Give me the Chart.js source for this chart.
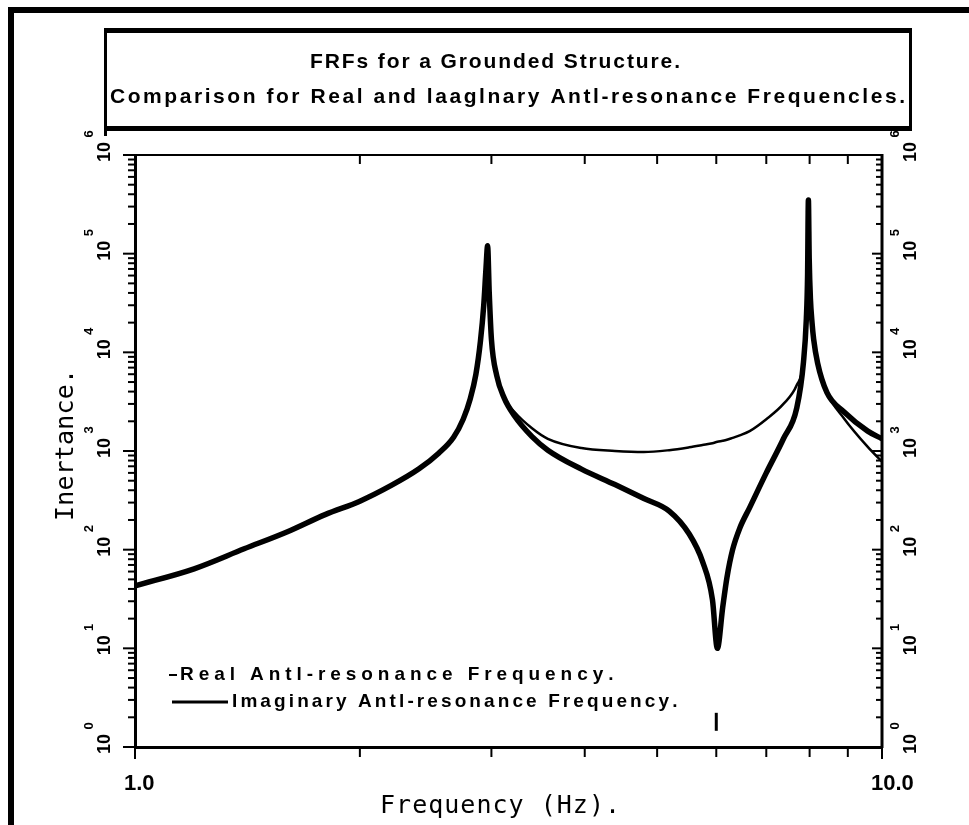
<!DOCTYPE html>
<html>
<head>
<meta charset="utf-8">
<title>FRFs for a Grounded Structure</title>
<script src="https://cdn.jsdelivr.net/npm/chart.js@4.4.1/dist/chart.umd.min.js"></script>
<style>
    html, body { margin: 0; padding: 0; background: #fff; }
    #wrap { position: relative; width: 969px; height: 825px; }
</style>
</head>
<body>
<div id="wrap"><canvas id="frf-chart"></canvas></div>
<script>
// Frequencies (Hz) shared by both curves
const FREQ = [1.0, 1.2, 1.4, 1.6, 1.8, 2.0, 2.2, 2.4, 2.55, 2.67, 2.75, 2.81, 2.86, 2.9, 2.93, 2.95, 2.965,
    2.98, 3.0, 3.05, 3.12, 3.22, 3.4, 3.57, 3.96, 4.39, 4.8, 5.19, 5.52, 5.75, 5.93, 6.02, 6.12, 6.2, 6.31,
    6.45, 6.65, 7.0, 7.38, 7.69, 7.85, 7.92, 7.95, 7.97, 7.99, 8.02, 8.06, 8.1, 8.2, 8.44, 8.89, 9.57, 10.0];

// Real anti-resonance (thin line)
const REAL_INERTANCE = [43, 64, 102, 152, 228, 310, 445, 660, 950, 1380, 2100, 3370, 6000, 12900, 30000, 70000, 120000,
    40000, 13600, 5800, 3450, 2500, 1700, 1330, 1070, 1000, 975, 1020, 1090, 1150, 1200, 1240, 1270, 1300, 1360,
    1440, 1590, 2100, 3000, 4660, 7940, 22000, 60000, 350000, 90000, 35000, 20000, 13600, 7770, 3900, 2150, 1100, 780];

// Imaginary anti-resonance (thick line)
const IMAG_INERTANCE = [43, 64, 102, 152, 228, 310, 445, 660, 950, 1380, 2100, 3370, 6000, 12900, 30000, 70000, 120000,
    40000, 13600, 5800, 3450, 2280, 1400, 1020, 655, 457, 330, 246, 144, 76, 31, 10, 26, 52, 100,
    165, 267, 600, 1330, 2740, 7940, 22000, 60000, 350000, 90000, 35000, 20000, 13600, 7770, 3900, 2500, 1590, 1330];

// small bar marking the anti-resonance frequency
const MARKER_FREQ = [6.0];
const MARKER_LEVEL = [1.8];

const Y_EXPONENTS = [0, 1, 2, 3, 4, 5, 6];
const MINOR_STEPS = [2, 3, 4, 5, 6, 7, 8, 9];
const X_TICK_VALUES = [1, 10];
const X_TICK_LABELS = ['1.0', '10.0'];

const TITLE_LINES = ['FRFs for a Grounded Structure.',
    'Comparison for Real and laaglnary Antl-resonance Frequencles.'];
const SERIES_LABELS = ['Real Antl-resonance Frequency.', 'Imaginary Antl-resonance Frequency.'];
const X_TITLE = 'Frequency (Hz).';
const Y_TITLE = 'Inertance.';

function toPoints(xs, ys) {
    return xs.map((f, i) => ({ x: f, y: ys[i] }));
}

function line(ctx, x1, y1, x2, y2) {
    ctx.beginPath();
    ctx.moveTo(x1, y1);
    ctx.lineTo(x2, y2);
    ctx.stroke();
}

// draw text from x, spreading the letters so it fills width
function drawSpaced(ctx, text, x, y, width) {
    const natural = ctx.measureText(text).width;
    const gap = text.length > 1 ? (width - natural) / (text.length - 1) : 0;
    let cx = x;
    for (const ch of text) {
        ctx.fillText(ch, cx, y);
        cx += ctx.measureText(ch).width + gap;
    }
}

// rotated "10" with superscript exponent
function powerLabel(ctx, x, y, exp) {
    ctx.save();
    ctx.translate(x, y);
    ctx.rotate(-Math.PI / 2);
    ctx.textAlign = 'center';
    ctx.textBaseline = 'middle';
    ctx.font = 'bold 18px "Liberation Sans"';
    ctx.fillText('10', 0, 0);
    ctx.font = 'bold 13px "Liberation Sans"';
    ctx.fillText(String(exp), 18, -16);
    ctx.restore();
}

const decor = {
    id: 'decor',
    beforeDraw(chart) {
        const ctx = chart.ctx;
        ctx.save();
        ctx.fillStyle = '#fff';
        ctx.fillRect(0, 0, chart.width, chart.height);
        ctx.fillStyle = '#000';
        // page frame
        ctx.fillRect(8, 7, chart.width - 8, 6);
        ctx.fillRect(8, 7, 6, chart.height - 7);
        // title box
        ctx.fillRect(104, 28, 808, 5);
        ctx.fillRect(104, 126, 808, 5);
        ctx.fillRect(104, 28, 3, 108);
        ctx.fillRect(909, 28, 3, 103);
        ctx.font = 'bold 21px "Liberation Sans"';
        ctx.textBaseline = 'middle';
        drawSpaced(ctx, TITLE_LINES[0], 495 - 185, 62, 370);
        drawSpaced(ctx, TITLE_LINES[1], 110, 97, 795);
        ctx.restore();
    },
    afterDraw(chart) {
        const { ctx, chartArea: a, scales: { x, y } } = chart;
        ctx.save();
        ctx.strokeStyle = '#000';
        ctx.fillStyle = '#000';

        // top and right frame lines
        ctx.lineWidth = 2;
        line(ctx, a.left, a.top, a.right + 1, a.top);
        ctx.lineWidth = 3;
        line(ctx, a.right, a.top - 1, a.right, a.bottom + 1);

        // y ticks and labels, both sides
        ctx.lineWidth = 2;
        Y_EXPONENTS.forEach(e => {
            const base = Math.pow(10, e);
            const py = y.getPixelForValue(base);
            line(ctx, a.left - 12, py, a.left, py);
            line(ctx, a.right - 10, py, a.right, py);
            if (e < Y_EXPONENTS[Y_EXPONENTS.length - 1]) {
                MINOR_STEPS.forEach(m => {
                    const p = y.getPixelForValue(base * m);
                    line(ctx, a.left - 7, p, a.left, p);
                    line(ctx, a.right - 6, p, a.right, p);
                });
            }
            powerLabel(ctx, 105, py - 3, e);
            powerLabel(ctx, 911, py - 3, e);
        });

        // x ticks
        MINOR_STEPS.forEach(m => {
            const px = x.getPixelForValue(m);
            line(ctx, px, a.top, px, a.top + 9);
            line(ctx, px, a.bottom, px, a.bottom + 10);
        });
        X_TICK_VALUES.forEach((v, i) => {
            const px = x.getPixelForValue(v);
            line(ctx, px, a.bottom, px, a.bottom + 12);
            ctx.font = 'bold 22px "Liberation Sans"';
            ctx.textAlign = 'left';
            ctx.textBaseline = 'middle';
            ctx.fillText(X_TICK_LABELS[i], px - 11, 784);
        });

        // axis titles
        ctx.font = '25px "DejaVu Sans Mono"';
        ctx.textAlign = 'left';
        ctx.textBaseline = 'middle';
        drawSpaced(ctx, X_TITLE, 500 - 120, 806, 240);
        ctx.save();
        ctx.translate(66, 445);
        ctx.rotate(-Math.PI / 2);
        drawSpaced(ctx, Y_TITLE, -76, 0, 152);
        ctx.restore();

        // legend inside the plot
        const ds = chart.data.datasets;
        ctx.font = 'bold 19px "Liberation Sans"';
        ctx.lineWidth = 2;
        line(ctx, 169, 675, 177, 675);
        drawSpaced(ctx, ds[0].label, 180, 675, 432);
        ctx.lineWidth = 3;
        line(ctx, 172, 702, 228, 702);
        drawSpaced(ctx, ds[1].label, 232, 702, 444);
        ctx.restore();
    }
};

new Chart(document.getElementById('frf-chart'), {
    type: 'line',
    data: {
        datasets: [{
            label: SERIES_LABELS[0],
            data: toPoints(FREQ, REAL_INERTANCE),
            borderColor: '#000',
            borderWidth: 2.5,
            pointRadius: 0,
            cubicInterpolationMode: 'monotone',
            fill: false
        }, {
            label: SERIES_LABELS[1],
            data: toPoints(FREQ, IMAG_INERTANCE),
            borderColor: '#000',
            borderWidth: 5.5,
            pointRadius: 0,
            cubicInterpolationMode: 'monotone',
            fill: false
        }, {
            label: 'marker',
            data: toPoints(MARKER_FREQ, MARKER_LEVEL),
            showLine: false,
            pointStyle: 'line',
            pointRotation: 90,
            pointRadius: 9,
            pointBorderWidth: 3,
            pointBorderColor: '#000',
            pointBackgroundColor: '#000'
        }]
    },
    options: {
        responsive: true,
        maintainAspectRatio: false,
        animation: false,
        devicePixelRatio: 1,
        layout: {
            padding: { left: 135, right: 87, top: 155, bottom: 78 }
        },
        plugins: {
            legend: { display: false },
            title: { display: false },
            tooltip: { enabled: false }
        },
        scales: {
            x: {
                type: 'logarithmic',
                min: 1,
                max: 10,
                grid: { display: false, drawTicks: false },
                ticks: { display: false },
                border: { display: true, color: '#000', width: 3 }
            },
            y: {
                type: 'logarithmic',
                min: 1,
                max: 1e6,
                grid: { display: false, drawTicks: false },
                ticks: { display: false },
                border: { display: true, color: '#000', width: 3 }
            }
        }
    },
    plugins: [decor]
});
</script>
</body>
</html>
